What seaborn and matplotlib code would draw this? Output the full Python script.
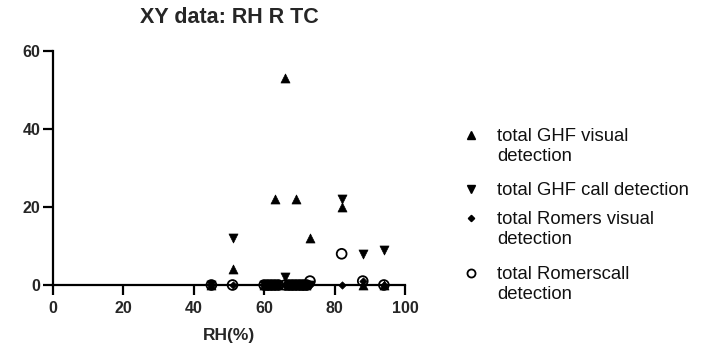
import matplotlib
matplotlib.use("Agg")
import matplotlib.pyplot as plt
from matplotlib.lines import Line2D
import seaborn as sns
import pandas as pd

rh = [45, 51, 60, 61, 62, 63, 64, 66, 67, 68, 69, 70, 71, 72, 73, 82, 88, 94]
ghf_visual = [0, 4, 0, 0, 0, 22, 0, 53, 0, 0, 22, 0, 0, 0, 12, 20, 0, 0]
ghf_call = [0, 12, 0, 0, 0, 0, 0, 2, 0, 0, 0, 0, 0, 0, 0, 22, 8, 9]
romers_visual = [0, 0, 0, 0, 0, 0, 0, 0, 0, 0, 0, 0, 0, 0, 0, 0, 1, 0]
romers_call = [0, 0, 0, 0, 0, 0, 0, 0, 0, 0, 0, 0, 0, 0, 1, 8, 1, 0]

series_names = ["total GHF visual\ndetection", "total GHF call detection",
                "total Romers visual\ndetection", "total Romerscall\ndetection"]
x_ticks = [0, 20, 40, 60, 80, 100]
y_ticks = [0, 20, 40, 60]

sns.set_style("ticks")
plt.rcParams['font.family'] = ['Liberation Sans', 'DejaVu Sans']

df = pd.DataFrame({"RH": rh, series_names[0]: ghf_visual, series_names[1]: ghf_call,
                   series_names[2]: romers_visual, series_names[3]: romers_call})
long = df.melt(id_vars="RH", var_name="series", value_name="count")

W, H = 707, 349
fig = plt.figure(figsize=(W / 100, H / 100), dpi=100)
ax = fig.add_axes([53 / W, 1 - 285 / H, (405 - 53) / W, (285 - 51) / H])

styles = [
    dict(marker="^", s=42, color="black", edgecolor="black", linewidth=0.5),
    dict(marker="v", s=42, color="black", edgecolor="black", linewidth=0.5),
    dict(marker="D", s=14, color="black", edgecolor="black", linewidth=0.5),
    dict(marker="o", s=50, facecolor="none", edgecolor="black", linewidth=1.3),
]
leg_styles = [
    dict(marker="^", markersize=5.2, color="black", mec="black"),
    dict(marker="v", markersize=5.2, color="black", mec="black"),
    dict(marker="D", markersize=3.2, color="black", mec="black"),
    dict(marker="o", markersize=5.8, mfc="none", mec="black", mew=1.3),
]
for name, st in zip(series_names, styles):
    sub = long[long["series"] == name]
    sns.scatterplot(data=sub, x="RH", y="count", ax=ax, clip_on=False, zorder=3, **st)

ax.set_xlim(0, 100)
ax.set_ylim(0, 60)
ax.set_xticks(x_ticks)
ax.set_yticks(y_ticks)
ax.set_xticklabels([str(v) for v in x_ticks], fontsize=11.5, fontweight="bold")
ax.set_yticklabels([str(v) for v in y_ticks], fontsize=11.5, fontweight="bold")
ax.set_xlabel("RH(%)", fontsize=12.5, fontweight="bold", labelpad=9)
ax.set_ylabel("")
ax.set_title("XY data: RH R TC", fontsize=15.5, fontweight="bold", pad=20)
for sp in ["top", "right"]:
    ax.spines[sp].set_visible(False)
for sp in ["left", "bottom"]:
    ax.spines[sp].set_linewidth(1.6)
    ax.spines[sp].set_color("black")
ax.tick_params(axis="both", width=1.6, length=7, color="black", direction="out")
ax.tick_params(axis="x", pad=4.5)
ax.tick_params(axis="y", pad=2)
if ax.get_legend() is not None:
    ax.get_legend().remove()

# legend: marker aligned with the first text line
row_y = [135, 189, 218, 273]
for name, st, y in zip(series_names, leg_styles, row_y):
    fig.add_artist(Line2D([471 / W], [1 - y / H], linestyle="none", transform=fig.transFigure, **st))
    fig.text(497 / W, 1 - (y - 7) / H, name, fontsize=13.3, va="top", ha="left",
             linespacing=1.2, color="#111111")

fig.savefig("out.png", dpi=100)
